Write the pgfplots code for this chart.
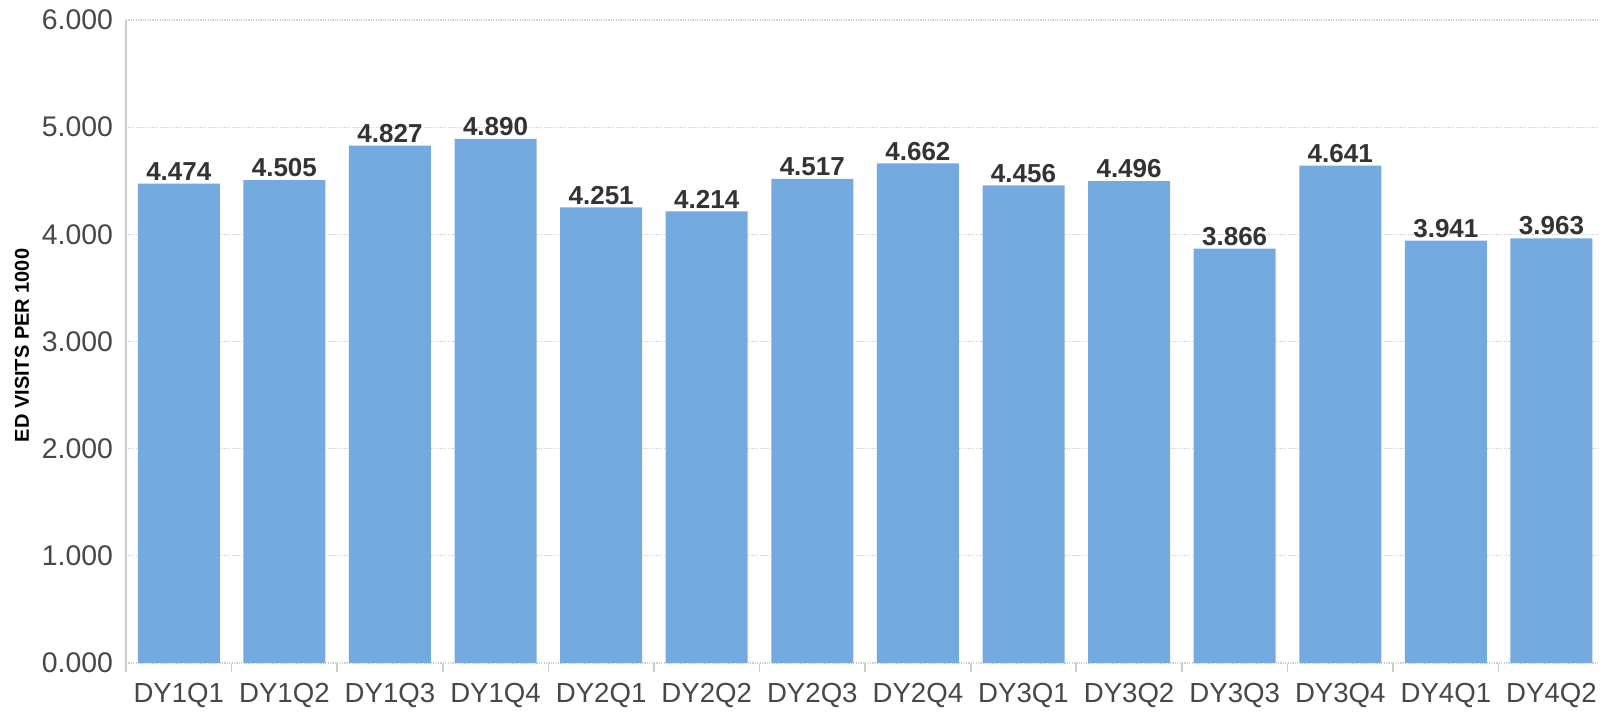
\documentclass[border=0pt]{standalone}
\usepackage{pgfplots}
\pgfplotsset{compat=1.18}
\usepackage{fontspec}
\setmainfont{Liberation Sans}
\definecolor{barblue}{HTML}{75AAE1}
\definecolor{txt}{HTML}{333333}
\definecolor{axgray}{HTML}{CCCCCC}
\definecolor{gridgray}{HTML}{D0D0D0}
\begin{document}%
\begin{tikzpicture}
\useasboundingbox (-63pt,-24.5pt) rectangle (737pt,331.5pt);
\begin{axis}[
  name=ax,
  at={(0,0)}, anchor=south west,
  scale only axis,
  width=737pt, height=321.5pt,
  xmin=-0.5, xmax=13.46,
  ymin=0, ymax=6,
  ytick={0,1,2,3,4,5,6},
  xtick={0,...,13},
  xticklabels={DY1Q1,DY1Q2,DY1Q3,DY1Q4,DY2Q1,DY2Q2,DY2Q3,DY2Q4,DY3Q1,DY3Q2,DY3Q3,DY3Q4,DY4Q1,DY4Q2},
  major tick length=0pt,
  extra x ticks={-0.5,0.5,1.5,2.5,3.5,4.5,5.5,6.5,7.5,8.5,9.5,10.5,11.5,12.5},
  extra x tick labels={},
  extra x tick style={grid=none, major tick length=4.5pt, tick align=outside, tick style={draw=axgray, line width=0.8pt}},
  axis x line*=bottom,
  axis y line*=left,
  x axis line style={draw=none},
  y axis line style={draw=axgray, line width=1pt, shorten <=-4.5pt},
  ymajorgrids,
  major grid style={draw=gridgray, line width=0.6pt, dash pattern=on 0.6pt off 0.6pt},
  /pgf/number format/assume math mode=true,
  yticklabel={\pgfmathprintnumber[fixed,zerofill,precision=3]{\tick}},
  yticklabel style={font=\fontsize{14.2}{16}\selectfont, text=txt!90, xshift=-3pt},
  xticklabel style={font=\fontsize{13.8}{16}\selectfont, text=txt!90, yshift=-6.5pt},
  ylabel={\textbf{ED VISITS PER 1000}},
  ylabel style={font=\fontsize{8.6}{10}\selectfont, text=black!85},
  every axis y label/.style={at={(rel axis cs:0,0.5)}, xshift=-52pt, yshift=-2pt, rotate=90, anchor=center},
  ybar, bar width=41pt,
  nodes near coords={\pgfmathprintnumber[fixed,zerofill,precision=3]{\pgfplotspointmeta}},
  every node near coord/.append style={font=\bfseries\fontsize{13}{15}\selectfont, text=txt, yshift=-2pt},
  clip=false,
]
\addplot[fill=barblue, draw=none] coordinates {
(0,4.474) (1,4.505) (2,4.827) (3,4.890) (4,4.251) (5,4.214) (6,4.517)
(7,4.662) (8,4.456) (9,4.496) (10,3.866) (11,4.641) (12,3.941) (13,3.963)};
\end{axis}
\end{tikzpicture}%
\end{document}
